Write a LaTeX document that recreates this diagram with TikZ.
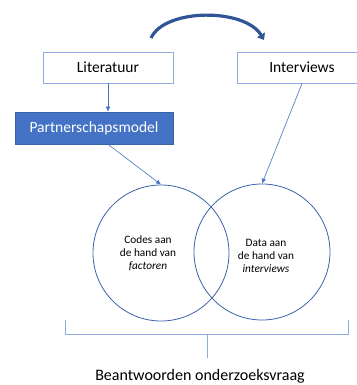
\documentclass[tikz,border=0pt]{standalone}
\usepackage{fontspec}
\setmainfont{Carlito}
\usetikzlibrary{arrows.meta}
\definecolor{boxline}{HTML}{8FAADC}
\definecolor{officeblue}{HTML}{4472C4}
\definecolor{darkblue}{HTML}{2F5597}
\tikzset{
srcbox/.style={draw=boxline,line width=.9pt,minimum width=130pt,minimum height=31pt,font=\fontsize{15.5}{18}\selectfont},
modelbox/.style={fill=officeblue,draw=officeblue!85!black,line width=.6pt,text=white,minimum width=158pt,minimum height=32pt,font=\fontsize{15.5}{18}\selectfont},
link/.style={officeblue,line width=.6pt,-{Latex[length=5pt,width=4.5pt]}},
setcirc/.style={circle,draw=officeblue!85!black,line width=.8pt,minimum size=136pt,inner sep=0pt},
circtext/.style={align=center,font=\fontsize{11.3}{13}\selectfont}
}
\begin{document}
\begin{tikzpicture}[x=1pt,y=-1pt]
\useasboundingbox (0,0) rectangle (356,385);
\node[srcbox] (lit) at (108,67.5) {Literatuur};
\node[srcbox] (int) at (302,67.5) {Interviews};
\node[modelbox] (pm) at (94,128) {Partnerschapsmodel};
\node[setcirc] (codes) at (161,253) {};
\node[setcirc] (data) at (262,252) {};
\node[circtext] (codestxt) at (148,253) {Codes aan\\de hand van\\\textit{factoren}};
\node[circtext] (datatxt) at (266,256) {Data aan\\de hand van\\\textit{interviews}};
\node[font=\fontsize{16}{19}\selectfont,anchor=base] (answer) at (200,380) {Beantwoorden onderzoeksvraag};
\coordinate (swingA) at (151,38);
\coordinate (swingB) at (264,40);
\draw[darkblue,line width=3.2pt,-{Triangle[length=6pt,width=9pt]}] (swingA) .. controls (165,8) and (245,8) .. (swingB);
\draw[link] (lit.south) -- (lit.south |- pm.north);
\draw[link] (lit.south |- pm.south) -- (codes.north);
\draw[link] (int.south) -- (data.north);
\draw[boxline,line width=.9pt] (65,320) |- (348,334) -- (348,320);
\draw[boxline,line width=.9pt] (207,334) -- (207,358);
\end{tikzpicture}
\end{document}
